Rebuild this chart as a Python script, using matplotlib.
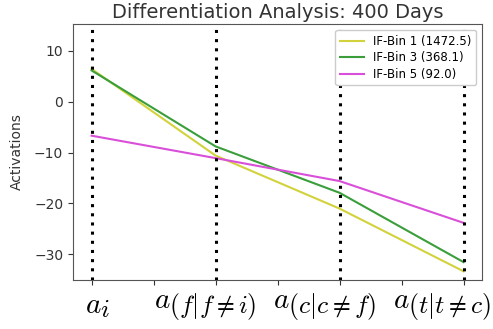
import matplotlib.pyplot as plt
import matplotlib.transforms as mtransforms
import matplotlib._mathtext as mathtext_impl
import numpy as np

plt.rcParams["mathtext.fontset"] = "cm"
# the reference labels have subscripts nearly as big as the base letter
mathtext_impl.SHRINK_FACTOR = 0.88

stages = [0, 1, 2, 3]
stage_labels = [r"$a_i$", r"$a_{(f|f\neq i)}$", r"$a_{(c|c\neq f)}$", r"$a_{(t|t\neq c)}$"]

bin1 = [6.4, -10.6, -21.0, -33.3]
bin3 = [6.1, -8.8, -17.9, -31.5]
bin5 = [-6.7, -11.1, -15.6, -23.8]
series_names = ["IF-Bin 1 (1472.5)", "IF-Bin 3 (368.1)", "IF-Bin 5 (92.0)"]
colors = ["#d2d23c", "#3a9e3a", "#d94fd9"]

fig = plt.figure(figsize=(4.93, 3.29), dpi=100)
ax = fig.add_axes([0.148, 0.149, 0.83, 0.778])

for vals, name, col in zip([bin1, bin3, bin5], series_names, colors):
    ax.plot(stages, vals, color=col, lw=1.5, label=name)

for s in stages:
    ax.axvline(s, color="black", linestyle=(0, (1, 2)), lw=2.2, zorder=5)

ax.set_xlim(-0.15, 3.15)
ax.set_ylim(-35, 15.2)
ax.tick_params(labelsize=10, colors="#333333")
ax.set_xticks(stages)
ax.set_xticklabels(stage_labels, fontsize=21, color="black")
ax.tick_params(axis="x", which="major", pad=5)
ax.set_xticks([0.5, 1.5, 2.5], minor=True)
ax.tick_params(axis="x", which="minor", length=3.5, width=0.8, colors="#333333")
ax.set_yticks([10, 0, -10, -20, -30])

# nudge the big math labels a bit so the last one stays inside the figure
shifts = [6, -10, -15, -21]
for lab, dx in zip(ax.get_xticklabels(), shifts):
    off = mtransforms.ScaledTranslation(dx / 100, 0, fig.dpi_scale_trans)
    lab.set_transform(lab.get_transform() + off)

for sp in ax.spines.values():
    sp.set_color("#555555")
ax.set_ylabel("Activations", fontsize=10, color="#333333", labelpad=7)
ax.set_title("Differentiation Analysis: 400 Days", fontsize=14, color="#333333", pad=4)
ax.legend(loc="upper right", fontsize=8.5, framealpha=1, borderaxespad=0.5,
          labelspacing=0.3)

fig.savefig("out.png", dpi=100)
